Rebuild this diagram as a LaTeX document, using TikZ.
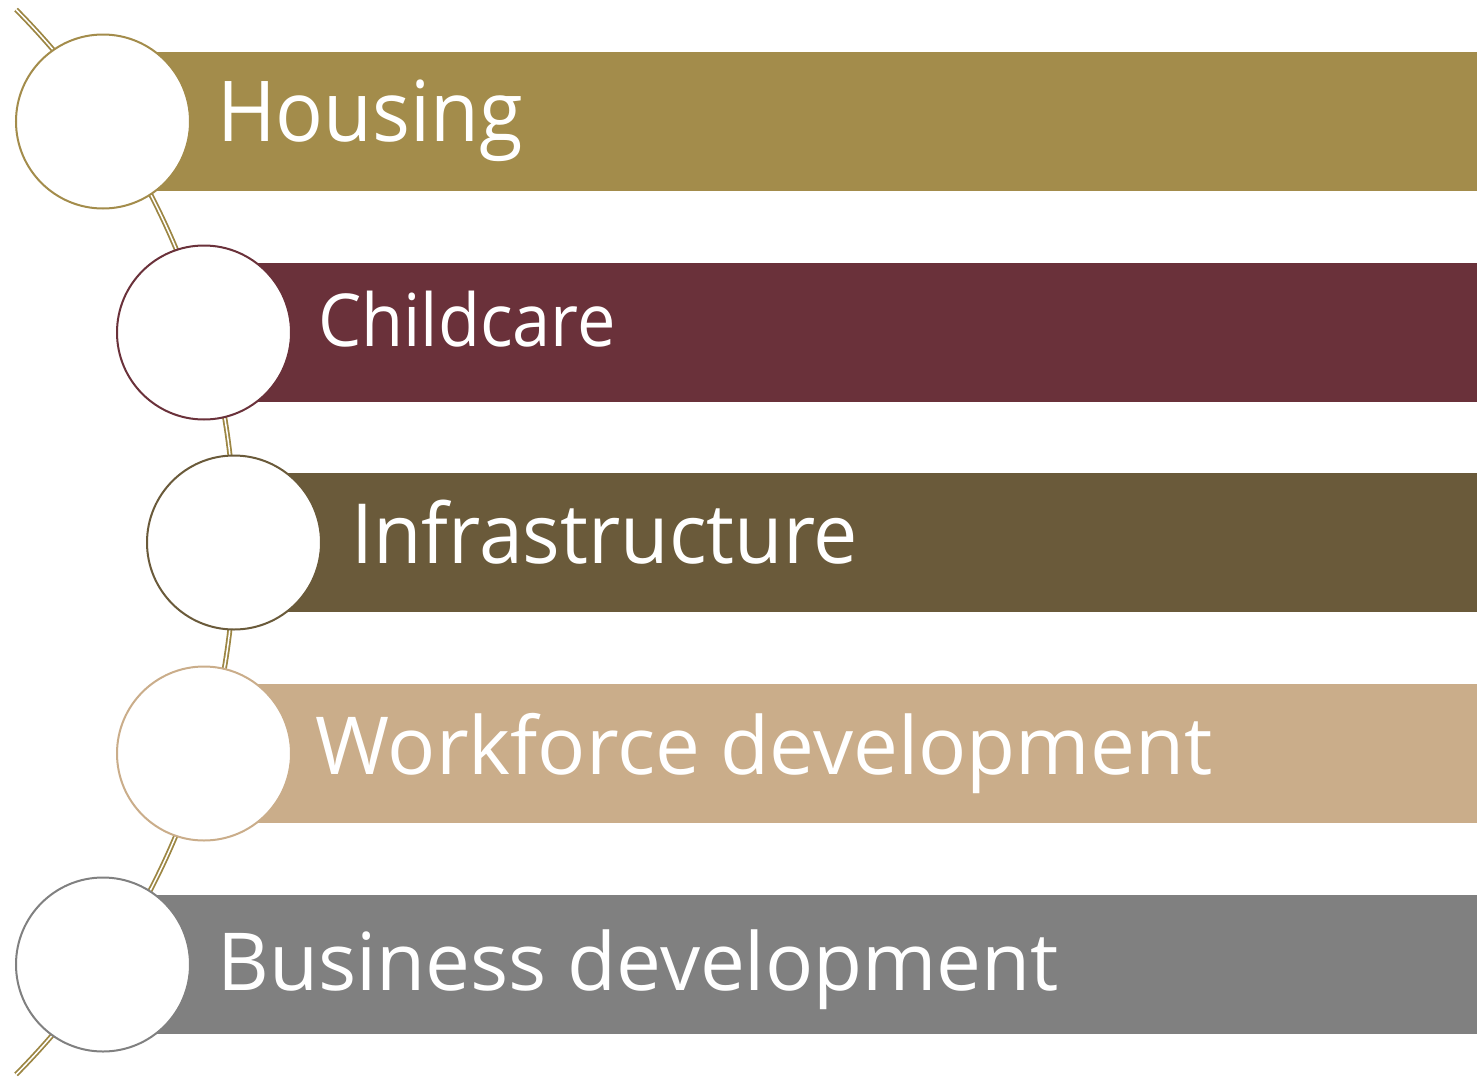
\documentclass[tikz,border=0pt]{standalone}
\usepackage{fontspec}
\setmainfont{Open Sans}
\definecolor{cHousing}{HTML}{A38C4B}
\definecolor{cChild}{HTML}{6A313A}
\definecolor{cInfra}{HTML}{6A5A3A}
\definecolor{cWork}{HTML}{CAAD8A}
\definecolor{cBiz}{HTML}{808080}
\definecolor{cSpine}{HTML}{9C8643}
\begin{document}
\begin{tikzpicture}[x=1pt,y=-1pt,
  bar/.style={fill=#1,draw=none,inner sep=0pt,minimum height=139pt,anchor=west},
  disc/.style={circle,fill=white,draw=#1,line width=2pt,minimum size=174pt,inner sep=0pt},
  label/.style={text=white,anchor=base west,inner sep=0pt,font=\fontsize{#1}{#1}\selectfont},
  spine/.style={draw=cSpine,line width=1.8pt,double=white,double distance=1.5pt}]
\useasboundingbox (0,0) rectangle (1480,1076);
% coloured bands
\node[bar=cHousing,minimum width=1374pt] (b1) at (103,121.8) {};
\node[bar=cChild,minimum width=1273pt]   (b2) at (204,332.5) {};
\node[bar=cInfra,minimum width=1243pt]   (b3) at (234,542.5) {};
\node[bar=cWork,minimum width=1273pt]    (b4) at (204,753.5) {};
\node[bar=cBiz,minimum width=1374pt]     (b5) at (103,964.5) {};
% double arc linking the discs
\coordinate (hub) at (-522,542);
\draw[spine] (hub) ++(-44.7:757) arc[start angle=-44.7,end angle=44.7,radius=757];
% discs
\node[disc=cHousing] (c1) at (103,121.5) {};
\node[disc=cChild]   (c2) at (204,332.5) {};
\node[disc=cInfra]   (c3) at (234,542.5) {};
\node[disc=cWork]    (c4) at (204,753.5) {};
\node[disc=cBiz]     (c5) at (103,964.5) {};
% labels
\node[label=84] (t1) at (217,141.7) {\scalebox{0.946}[1]{Housing}};
\node[label=73] (t2) at (318,346) {\scalebox{0.939}[1]{Childcare}};
\node[label=83] (t3) at (351,563.3) {\scalebox{0.951}[1]{Infrastructure}};
\node[label=80] (t4) at (315,774) {Workforce development};
\node[label=80] (t5) at (217,990) {Business development};
\end{tikzpicture}
\end{document}
